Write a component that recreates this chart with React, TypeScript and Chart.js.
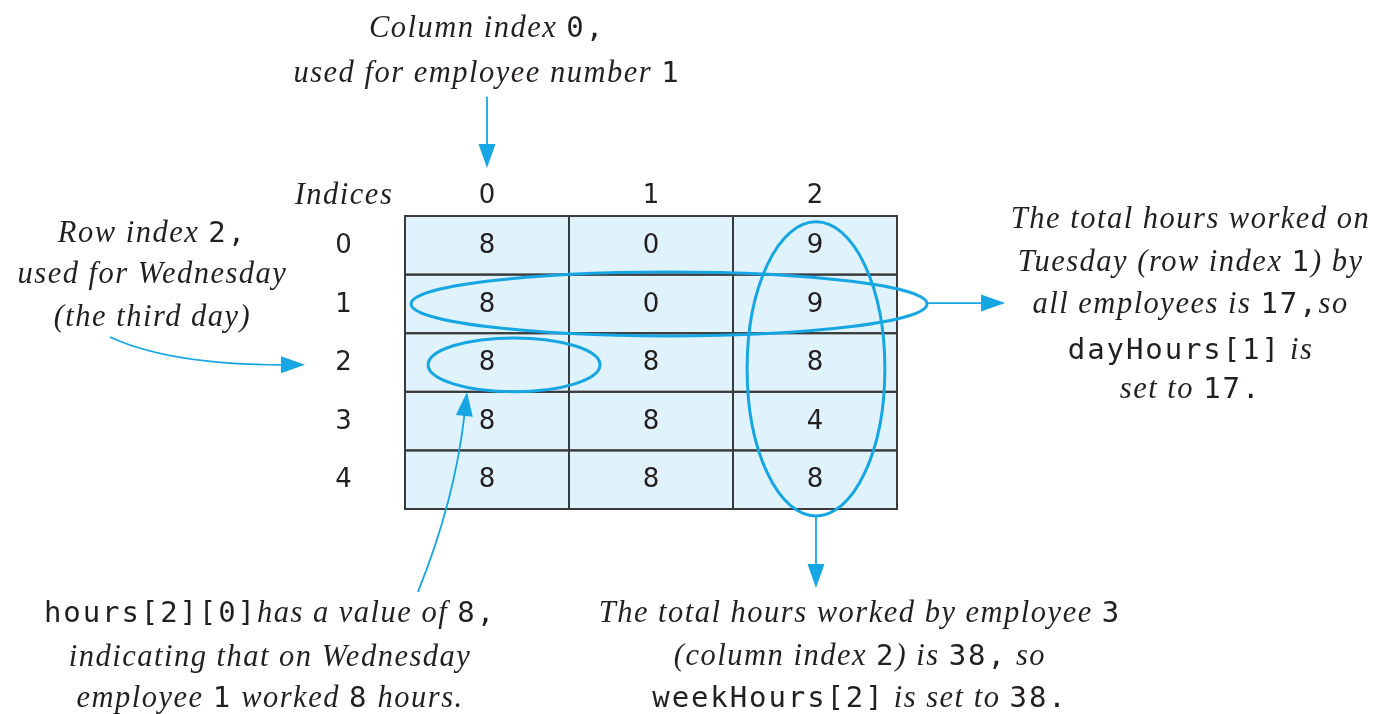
import React, { useEffect, useRef } from "react";
import { Chart, registerables } from "chart.js";
Chart.register(...registerables);

// ---- data ----
const rowIndices = [0, 1, 2, 3, 4];
const colIndices = [0, 1, 2];
const hours = [
  [8, 0, 9],
  [8, 0, 9],
  [8, 8, 8],
  [8, 8, 4],
  [8, 8, 8],
];
const headerLabel = "Indices";

// text runs: i = italic serif, m = monospace
type Run = { t: string; f: "i" | "m" };
const topNote: Run[][] = [
  [{ t: "Column index ", f: "i" }, { t: "0,", f: "m" }],
  [{ t: "used for employee number ", f: "i" }, { t: "1", f: "m" }],
];
const leftNote: Run[][] = [
  [{ t: "Row index ", f: "i" }, { t: "2,", f: "m" }],
  [{ t: "used for Wednesday", f: "i" }],
  [{ t: "(the third day)", f: "i" }],
];
const rightNote: Run[][] = [
  [{ t: "The total hours worked on", f: "i" }],
  [{ t: "Tuesday (row index ", f: "i" }, { t: "1", f: "m" }, { t: ") by", f: "i" }],
  [{ t: "all employees is ", f: "i" }, { t: "17,", f: "m" }, { t: "so", f: "i" }],
  [{ t: "dayHours[1]", f: "m" }, { t: " is", f: "i" }],
  [{ t: "set to ", f: "i" }, { t: "17.", f: "m" }],
];
const bottomLeftNote: Run[][] = [
  [{ t: "hours[2][0]", f: "m" }, { t: "has a value of ", f: "i" }, { t: "8,", f: "m" }],
  [{ t: "indicating that on Wednesday", f: "i" }],
  [{ t: "employee ", f: "i" }, { t: "1", f: "m" }, { t: " worked ", f: "i" }, { t: "8", f: "m" }, { t: " hours.", f: "i" }],
];
const bottomRightNote: Run[][] = [
  [{ t: "The total hours worked by employee ", f: "i" }, { t: "3", f: "m" }],
  [{ t: "(column index ", f: "i" }, { t: "2", f: "m" }, { t: ") is ", f: "i" }, { t: "38,", f: "m" }, { t: " so", f: "i" }],
  [{ t: "weekHours[2]", f: "m" }, { t: " is set to ", f: "i" }, { t: "38.", f: "m" }],
];

// ---- styles ----
const CYAN = "#16a6e3";
const INK = "#231f20";
const CELL_FILL = "#e0f2fc";
const GRID = "#3b3b3b";
const SERIF = 'italic 30.5px "Liberation Serif"';
const SERIF_SPACING = "1.5px";
const MONO = '29px "DejaVu Sans Mono"';
const MONO_SPACING = "1.9px";
const DIGIT = '26px "DejaVu Sans"';

// ---- layout in table (column/row) units ----
const X_RANGE = { min: -2.9695, max: 5.439 };
const Y_RANGE = { min: -4.186, max: 7.998 };
const notes = [
  { cx: 0, ys: [-3.725, -2.957], lines: topNote },
  { cx: -2.04, ys: [-0.227, 0.473, 1.207], lines: leftNote },
  { cx: 4.29, ys: [-0.466, 0.268, 0.985, 1.77, 2.435], lines: rightNote },
  { cx: -1.323, ys: [6.258, 7.009, 7.708], lines: bottomLeftNote },
  { cx: 2.274, ys: [6.258, 6.991, 7.708], lines: bottomRightNote },
];
const ellipses = [
  { cx: 1.11, cy: 1.0, rx: 1.573, ry: 0.546 },
  { cx: 2.006, cy: 2.11, rx: 0.42, ry: 2.51 },
  { cx: 0.165, cy: 2.04, rx: 0.524, ry: 0.46 },
];
const arrows = [
  { from: [0, -2.534], ctrl: null, to: [0, -1.319] },
  { from: [2.683, 0.985], ctrl: null, to: [3.159, 0.985] },
  { from: [2.006, 4.637], ctrl: null, to: [2.006, 5.847] },
  { from: [-2.299, 1.565], ctrl: [-1.933, 2.04], to: [-1.11, 2.04] },
  { from: [-0.421, 5.913], ctrl: [-0.195, 4.346], to: [-0.122, 2.503] },
];

function drawRuns(ctx: CanvasRenderingContext2D, runs: Run[], cx: number, cy: number) {
  const set = (f: "i" | "m") => {
    ctx.font = f === "i" ? SERIF : MONO;
    (ctx as any).letterSpacing = f === "m" ? MONO_SPACING : SERIF_SPACING;
  };
  const widths = runs.map((r) => {
    set(r.f);
    return ctx.measureText(r.t).width;
  });
  const total = widths.reduce((a, b) => a + b, 0);
  let x = cx - total / 2;
  ctx.textAlign = "left";
  ctx.textBaseline = "alphabetic";
  ctx.fillStyle = INK;
  runs.forEach((r, i) => {
    set(r.f);
    ctx.fillText(r.t, x, cy + 10);
    x += widths[i];
  });
  (ctx as any).letterSpacing = "0px";
}

const diagramPlugin = {
  id: "diagram",
  beforeDatasetsDraw(chart: any) {
    const ctx: CanvasRenderingContext2D = chart.ctx;
    const xs = chart.scales.x;
    const ys = chart.scales.y;
    const X = (v: number) => xs.getPixelForValue(v);
    const Y = (v: number) => ys.getPixelForValue(v);
    ctx.save();
    ctx.fillStyle = "#ffffff";
    ctx.fillRect(0, 0, chart.width, chart.height);

    // cells
    hours.forEach((row, r) => {
      row.forEach((val, c) => {
        const x0 = X(c - 0.5), x1 = X(c + 0.5);
        const y0 = Y(r - 0.5), y1 = Y(r + 0.5);
        ctx.fillStyle = CELL_FILL;
        ctx.fillRect(x0, y0, x1 - x0, y1 - y0);
      });
    });
    ctx.strokeStyle = GRID;
    ctx.lineWidth = 2;
    hours.forEach((row, r) => {
      row.forEach((val, c) => {
        const x0 = X(c - 0.5), x1 = X(c + 0.5);
        const y0 = Y(r - 0.5), y1 = Y(r + 0.5);
        ctx.strokeRect(x0, y0, x1 - x0, y1 - y0);
      });
    });
    // cell values and indices
    ctx.font = DIGIT;
    ctx.fillStyle = INK;
    ctx.textAlign = "center";
    ctx.textBaseline = "middle";
    hours.forEach((row, r) => {
      row.forEach((val, c) => {
        ctx.fillText(String(val), X(c), Y(r) + 1);
      });
    });
    colIndices.forEach((c) => ctx.fillText(String(c), X(c), Y(-0.85) + 1));
    rowIndices.forEach((r) => ctx.fillText(String(r), X(-0.875), Y(r) + 1));
    ctx.font = SERIF;
    (ctx as any).letterSpacing = SERIF_SPACING;
    ctx.fillText(headerLabel, X(-0.872), Y(-0.85));
    (ctx as any).letterSpacing = "0px";

    // ellipses
    ctx.strokeStyle = CYAN;
    ctx.lineWidth = 3;
    ellipses.forEach((e) => {
      ctx.beginPath();
      ctx.ellipse(X(e.cx), Y(e.cy), Math.abs(X(e.cx + e.rx) - X(e.cx)), Math.abs(Y(e.cy + e.ry) - Y(e.cy)), 0, 0, Math.PI * 2);
      ctx.stroke();
    });

    // arrows
    ctx.lineWidth = 1.8;
    ctx.fillStyle = CYAN;
    arrows.forEach((a) => {
      const fx = X(a.from[0]), fy = Y(a.from[1]);
      const tx = X(a.to[0]), ty = Y(a.to[1]);
      let dx: number, dy: number;
      const L = 24, W = 8.5;
      if (a.ctrl) {
        const qx = X(a.ctrl[0]), qy = Y(a.ctrl[1]);
        dx = tx - qx; dy = ty - qy;
      } else {
        dx = tx - fx; dy = ty - fy;
      }
      const len = Math.hypot(dx, dy);
      const ux = dx / len, uy = dy / len;
      const bx = tx - ux * L, by = ty - uy * L;
      ctx.beginPath();
      ctx.moveTo(fx, fy);
      if (a.ctrl) {
        ctx.quadraticCurveTo(X(a.ctrl[0]), Y(a.ctrl[1]), bx + ux * 2, by + uy * 2);
      } else {
        ctx.lineTo(bx + ux * 2, by + uy * 2);
      }
      ctx.stroke();
      ctx.beginPath();
      ctx.moveTo(tx, ty);
      ctx.lineTo(bx - uy * W, by + ux * W);
      ctx.lineTo(bx + uy * W, by - ux * W);
      ctx.closePath();
      ctx.fill();
    });

    // notes
    notes.forEach((n) => {
      n.lines.forEach((line, i) => drawRuns(ctx, line, X(n.cx), Y(n.ys[i])));
    });
    ctx.restore();
  },
};

export default function App() {
  const ref = useRef<HTMLCanvasElement | null>(null);
  useEffect(() => {
    document.body.style.margin = "0";
    const cells = hours.flatMap((row, r) => row.map((v, c) => ({ x: c, y: r, v })));
    const chart = new Chart(ref.current!, {
      type: "scatter",
      data: {
        datasets: [
          {
            label: "hours",
            data: cells,
            pointRadius: 0,
            pointHoverRadius: 0,
            backgroundColor: "transparent",
            borderColor: "transparent",
          },
        ],
      },
      options: {
        animation: false,
        responsive: false,
        devicePixelRatio: 1,
        layout: { padding: 0 },
        events: [],
        plugins: { legend: { display: false }, tooltip: { enabled: false }, title: { display: false } },
        scales: {
          x: { type: "linear", display: false, min: X_RANGE.min, max: X_RANGE.max },
          y: { type: "linear", display: false, reverse: true, min: Y_RANGE.min, max: Y_RANGE.max },
        },
      },
      plugins: [diagramPlugin],
    });
    return () => chart.destroy();
  }, []);
  return (
    <div style={{ position: "fixed", left: 0, top: 0, width: 1379, height: 714, background: "#fff" }}>
      <canvas ref={ref} width={1379} height={714} style={{ display: "block", width: 1379, height: 714 }} />
    </div>
  );
}
